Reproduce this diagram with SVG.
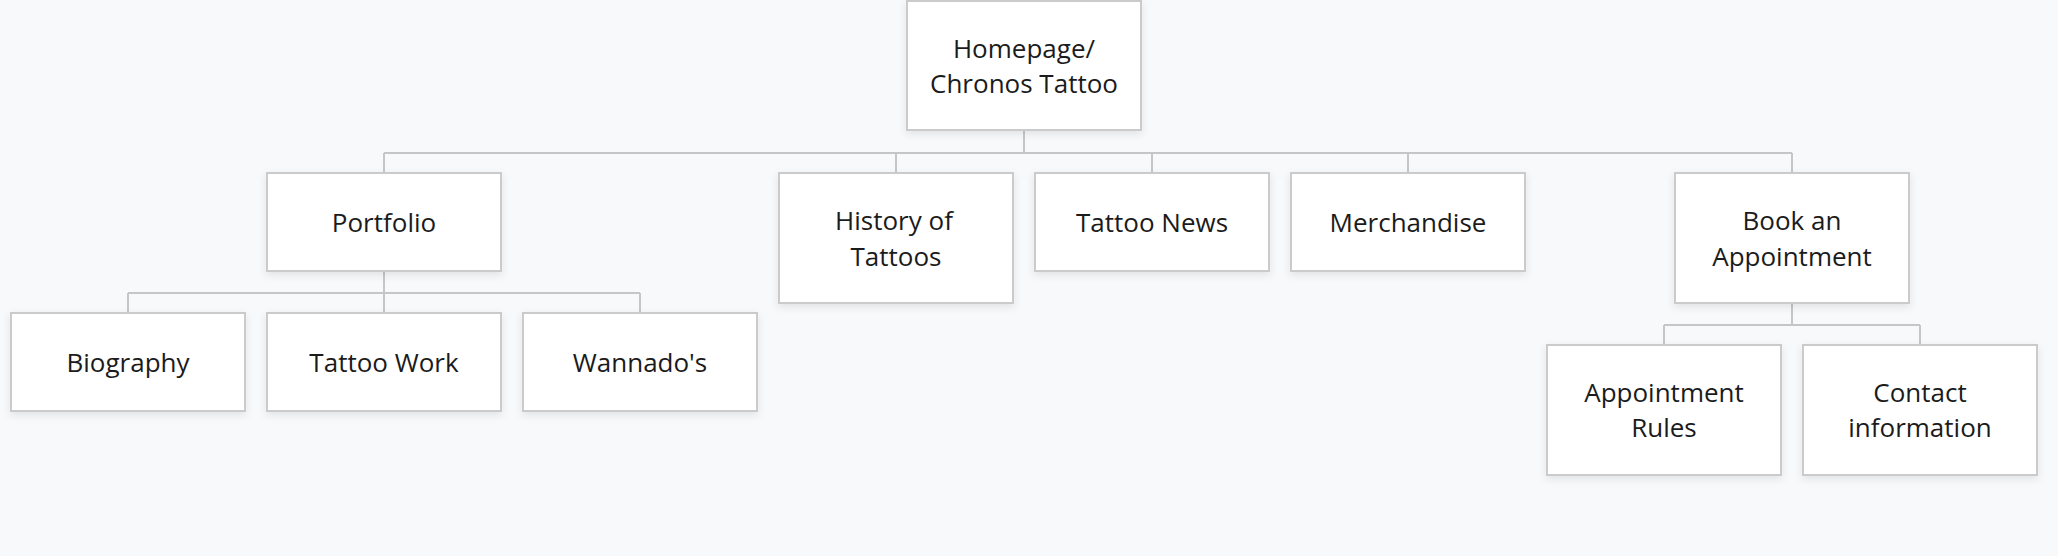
<svg xmlns="http://www.w3.org/2000/svg" width="2058" height="556" viewBox="0 0 2058 556">
<defs>
<filter id="sh" x="-10%" y="-10%" width="120%" height="130%">
<feDropShadow dx="0" dy="3" stdDeviation="4" flood-color="#000" flood-opacity="0.09"/>
</filter>
<style>
.box{fill:#fff;stroke:#cbcbcb;stroke-width:2;filter:url(#sh)}
.t{font-family:"Open Sans","Noto Sans",sans-serif;font-size:26px;fill:#1b1b1b;text-anchor:middle}
.c{fill:none;stroke:#c6c6c6;stroke-width:2}
</style>
</defs>
<rect width="2058" height="556" fill="#f8f9fa"/>
<g id="connectors">
<path class="c" d="M1024 130V153M384 153H1792M384 153V173M896 153V173M1152 153V173M1408 153V173M1792 153V173"/>
<path class="c" d="M384 271V293M128 293H640M128 293V313M384 293V313M640 293V313"/>
<path class="c" d="M1792 303V325M1664 325H1920M1664 325V345M1920 325V345"/>
</g>
<g id="root"><rect class="box" x="907" y="1" width="234" height="129"/><text class="t" x="1024" y="57.5">Homepage/</text><text class="t" x="1024" y="93">Chronos Tattoo</text></g>
<g id="portfolio"><rect class="box" x="267" y="173" width="234" height="98"/><text class="t" x="384" y="232">Portfolio</text></g>
<g id="history"><rect class="box" x="779" y="173" width="234" height="130"/><text class="t" x="894" y="230">History of</text><text class="t" x="896" y="266">Tattoos</text></g>
<g id="news"><rect class="box" x="1035" y="173" width="234" height="98"/><text class="t" x="1152" y="232">Tattoo News</text></g>
<g id="merch"><rect class="box" x="1291" y="173" width="234" height="98"/><text class="t" x="1408" y="232">Merchandise</text></g>
<g id="book"><rect class="box" x="1675" y="173" width="234" height="130"/><text class="t" x="1792" y="230">Book an</text><text class="t" x="1792" y="266">Appointment</text></g>
<g id="bio"><rect class="box" x="11" y="313" width="234" height="98"/><text class="t" x="128" y="372">Biography</text></g>
<g id="work"><rect class="box" x="267" y="313" width="234" height="98"/><text class="t" x="384" y="372">Tattoo Work</text></g>
<g id="wannado"><rect class="box" x="523" y="313" width="234" height="98"/><text class="t" x="640" y="372">Wannado's</text></g>
<g id="rules"><rect class="box" x="1547" y="345" width="234" height="130"/><text class="t" x="1664" y="402">Appointment</text><text class="t" x="1664" y="437">Rules</text></g>
<g id="contact"><rect class="box" x="1803" y="345" width="234" height="130"/><text class="t" x="1920" y="402">Contact</text><text class="t" x="1920" y="437">information</text></g>
</svg>
